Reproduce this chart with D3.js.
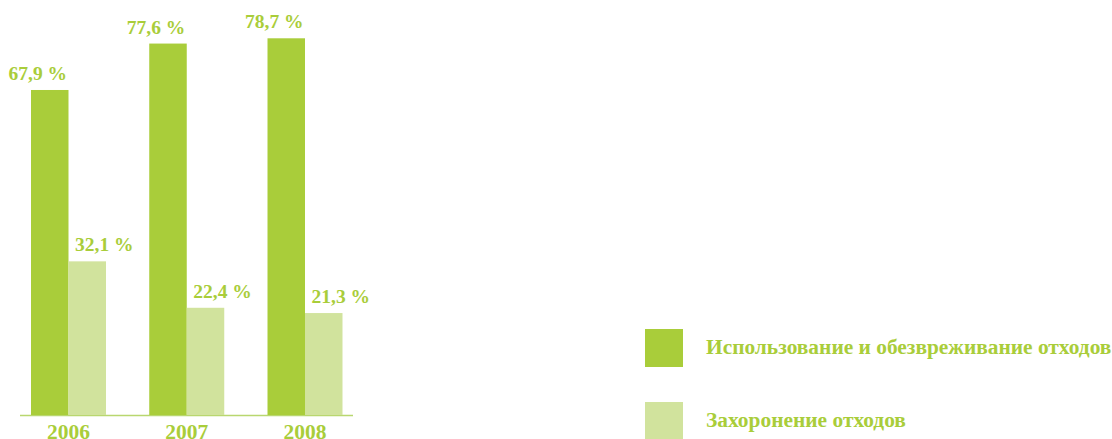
<!DOCTYPE html>
<html lang="ru">
<head>
  <meta charset="UTF-8" />
  <title>Отходы</title>
  <script src="https://d3js.org/d3.v7.min.js"></script>
  <style>
    body { margin: 0; background: #fff; }
    svg { display: block; }
    text { font-family: "Liberation Serif", "DejaVu Serif", serif; font-weight: bold; fill: #a9cd3a; }
  </style>
</head>
<body>
  <div id="chart"></div>
  <script>
    // Данные
    const years = ["2006", "2007", "2008"];
    const used = [67.9, 77.6, 78.7];
    const buried = [32.1, 22.4, 21.3];
    const seriesNames = ["Использование и обезвреживание отходов", "Захоронение отходов"];
    const colors = ["#a9cd3a", "#d1e39d"];

    const width = 1112, height = 439;
    const svg = d3.select('#chart').append('svg')
      .attr('width', width)
      .attr('height', height);

    const base = 415;
    const x = d3.scalePoint().domain(years).range([68.5, 305]);
    const y = d3.scaleLinear().domain([0, 86.7]).range([base, 0]);
    const half = 37.5;

    const fmt = v => String(v).replace('.', ',') + ' %';

    // ось
    svg.append('line')
      .attr('x1', 20).attr('x2', 353)
      .attr('y1', base + 0.5).attr('y2', base + 0.5)
      .attr('stroke', '#b9d76f').attr('stroke-width', 1.5);

    const g = svg.selectAll('g.year').data(years).join('g')
      .attr('transform', d => `translate(${x(d)},0)`);

    // столбцы
    g.append('rect')
      .attr('x', -half).attr('width', half)
      .attr('y', (d, i) => y(used[i]))
      .attr('height', (d, i) => base - y(used[i]))
      .attr('fill', colors[0]);

    g.append('rect')
      .attr('x', 0).attr('width', half)
      .attr('y', (d, i) => y(buried[i]))
      .attr('height', (d, i) => base - y(buried[i]))
      .attr('fill', colors[1]);

    g.append('text')
      .attr('x', -half / 2 - 12)
      .attr('y', (d, i) => y(used[i]) - 10)
      .attr('text-anchor', 'middle')
      .style('font-size', '19.5px')
      .text((d, i) => fmt(used[i]));

    g.append('text')
      .attr('x', half / 2 + 17)
      .attr('y', (d, i) => y(buried[i]) - 10)
      .attr('text-anchor', 'middle')
      .style('font-size', '19.5px')
      .text((d, i) => fmt(buried[i]));

    g.append('text')
      .attr('x', 0).attr('y', 439)
      .attr('text-anchor', 'middle')
      .style('font-size', '21.5px')
      .text(d => d);

    // легенда
    const leg = svg.selectAll('g.leg').data(seriesNames).join('g')
      .attr('transform', (d, i) => `translate(645,${329 + i * 73})`);
    leg.append('rect').attr('width', 38).attr('height', 38)
      .attr('fill', (d, i) => colors[i]);
    leg.append('text')
      .attr('x', 61).attr('y', 25)
      .style('font-size', '21.4px')
      .text(d => d);
  </script>
</body>
</html>
